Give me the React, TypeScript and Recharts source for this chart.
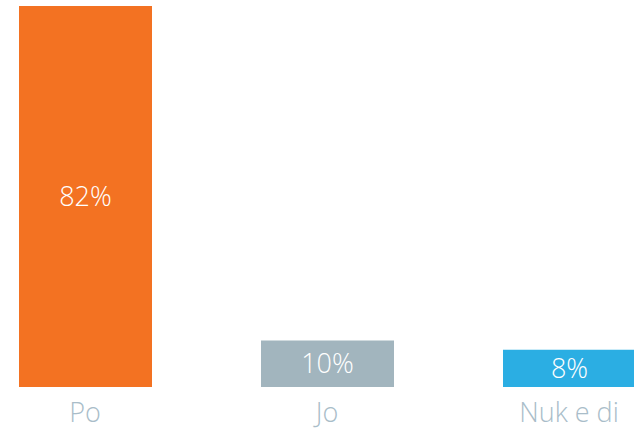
import React from "react";
import { BarChart, Bar, XAxis, YAxis, Cell, LabelList } from "recharts";

const categories = ["Po", "Jo", "Nuk e di"];
const values = [82, 10, 8];
const colors = ["#F37222", "#A2B5BE", "#2BAEE3"];

const data = categories.map((name, i) => ({ name, value: values[i] }));

const FONT = "'Open Sans', 'Liberation Sans', sans-serif";

export default function App() {
  return (
    <div style={{ position: "absolute", left: 0, top: 0, width: 634, height: 430, overflow: "hidden", background: "#fff" }}>
      <div style={{ position: "absolute", left: -36, top: 0 }}>
        <BarChart width={726} height={430} data={data} margin={{ top: 6, right: 0, bottom: 0, left: 0 }}>
          <YAxis hide domain={[0, 82]} />
          <XAxis
            dataKey="name"
            axisLine={false}
            tickLine={false}
            tickSize={0}
            tickMargin={16}
            height={43}
            interval={0}
            tick={{ fill: "#A9BDC9", fontSize: 27, fontFamily: FONT, fontWeight: 300 }}
          />
          <Bar dataKey="value" barSize={133} isAnimationActive={false}>
            {data.map((d, i) => (
              <Cell key={d.name} fill={colors[i]} />
            ))}
            <LabelList
              dataKey="value"
              position="center"
              formatter={(v: number) => `${v}%`}
              style={{ fill: "#FFFFFF", fontSize: 27, fontFamily: FONT, fontWeight: 300 }}
            />
          </Bar>
        </BarChart>
      </div>
    </div>
  );
}
